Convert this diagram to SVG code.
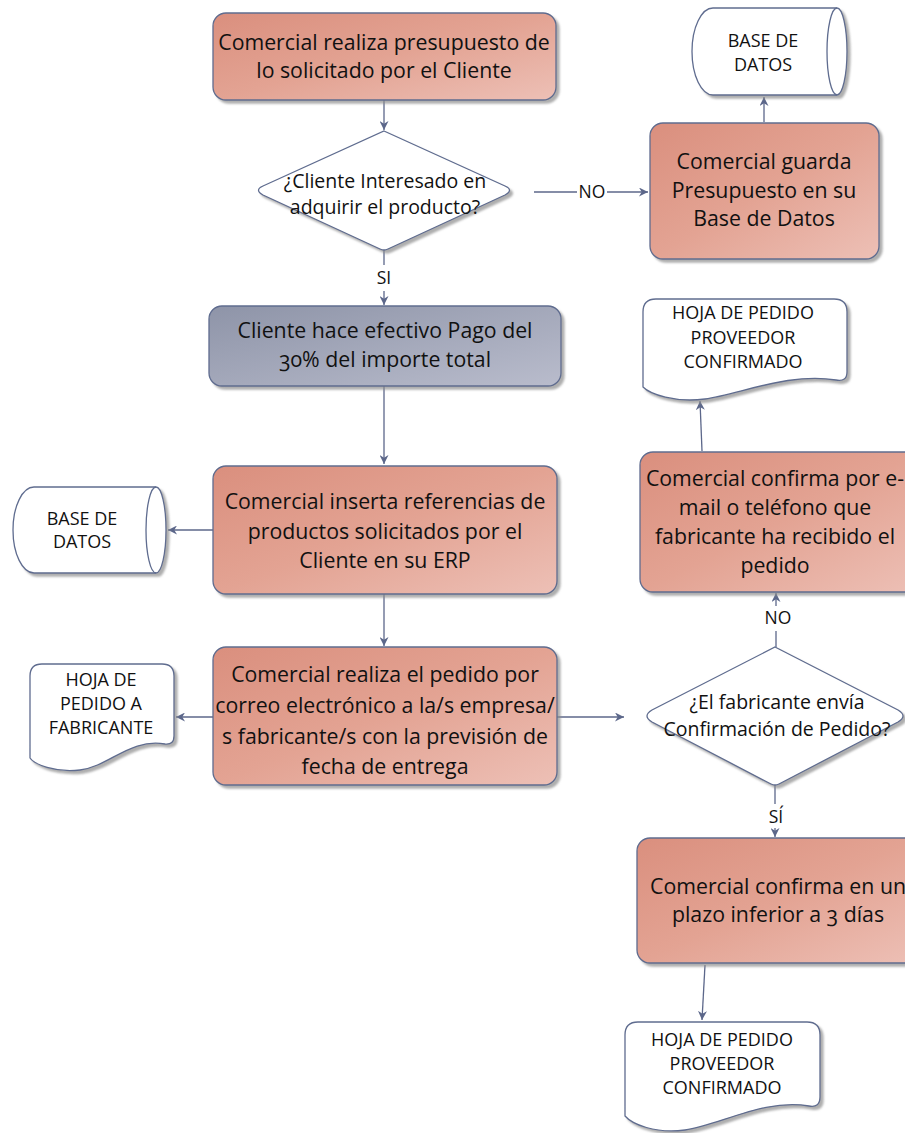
<svg xmlns="http://www.w3.org/2000/svg" width="905" height="1133" viewBox="0 0 905 1133">
  <defs>
    <linearGradient id="salmon" x1="0" y1="0" x2="1" y2="1">
      <stop offset="0" stop-color="#da8f7e"/>
      <stop offset="0.5" stop-color="#e3a393"/>
      <stop offset="1" stop-color="#edc0b6"/>
    </linearGradient>
    <linearGradient id="slate" x1="0" y1="0" x2="1" y2="1">
      <stop offset="0" stop-color="#8e94a8"/>
      <stop offset="1" stop-color="#b9bccc"/>
    </linearGradient>
    <filter id="shadow" x="-10%" y="-10%" width="125%" height="130%">
      <feDropShadow dx="3" dy="3" stdDeviation="1.2" flood-color="#8c8c8c" flood-opacity="0.7"/>
    </filter>
    <marker id="arrow" viewBox="0 0 10 10" refX="10" refY="5" markerWidth="9" markerHeight="9" markerUnits="userSpaceOnUse" orient="auto">
      <path d="M0,0 L10,5 L0,10 L3,5 Z" fill="#5c678a"/>
    </marker>
  </defs>
  <style>
    .box { stroke: #5f6c8f; stroke-width: 1.3; filter: url(#shadow); }
    .proc { fill: url(#salmon); }
    .pay { fill: url(#slate); }
    .white { fill: #ffffff; }
    .line { fill: none; stroke: #5f6c8f; stroke-width: 1.3; }
    .conn { fill: none; stroke: #5c678a; stroke-width: 1.3; }
    text { font-family: "Open Sans", "Noto Sans", "Liberation Sans", sans-serif; fill: #111111; text-anchor: middle; font-variant-numeric: oldstyle-nums; }
    .t21 { font-size: 21.3px; }
    .t18 { font-size: 19.5px; }
    .t15 { font-size: 18px; }
    .lbl { font-size: 17.5px; }
  </style>
  <rect width="905" height="1133" fill="#ffffff"/>

  <!-- connectors -->
  <g id="connectors">
    <line class="conn" x1="384" y1="100" x2="384" y2="130" marker-end="url(#arrow)"/>
    <line class="conn" x1="534" y1="192" x2="577" y2="192"/>
    <line class="conn" x1="607" y1="192" x2="648" y2="192" marker-end="url(#arrow)"/>
    <text class="lbl" x="592" y="198">NO</text>
    <line class="conn" x1="764" y1="122" x2="764" y2="97" marker-end="url(#arrow)"/>
    <line class="conn" x1="384" y1="250" x2="384" y2="265"/>
    <text class="lbl" x="384" y="284">SI</text>
    <line class="conn" x1="384" y1="291" x2="384" y2="305" marker-end="url(#arrow)"/>
    <line class="conn" x1="384" y1="386" x2="384" y2="464" marker-end="url(#arrow)"/>
    <line class="conn" x1="213" y1="530" x2="168" y2="530" marker-end="url(#arrow)"/>
    <line class="conn" x1="384" y1="594" x2="384" y2="646" marker-end="url(#arrow)"/>
    <line class="conn" x1="213" y1="717" x2="176" y2="717" marker-end="url(#arrow)"/>
    <line class="conn" x1="557" y1="717" x2="624" y2="717" marker-end="url(#arrow)"/>
    <line class="conn" x1="776" y1="647" x2="776" y2="631"/>
    <text class="lbl" x="778" y="624">NO</text>
    <line class="conn" x1="776" y1="606" x2="776" y2="593" marker-end="url(#arrow)"/>
    <line class="conn" x1="702" y1="451" x2="700" y2="401" marker-end="url(#arrow)"/>
    <line class="conn" x1="775" y1="785" x2="775" y2="804"/>
    <text class="lbl" x="776" y="823">SÍ</text>
    <line class="conn" x1="775" y1="828" x2="775" y2="837" marker-end="url(#arrow)"/>
    <line class="conn" x1="705" y1="965" x2="702" y2="1020" marker-end="url(#arrow)"/>
  </g>

  <!-- process: budget -->
  <g id="n-presupuesto">
    <rect class="box proc" x="213" y="13" width="343" height="87" rx="13"/>
    <text class="t21" x="384" y="50">Comercial realiza presupuesto de</text>
    <text class="t21" x="384" y="78">lo solicitado por el Cliente</text>
  </g>

  <!-- decision: interested -->
  <g id="n-interesado">
    <path class="box white" d="M384,131 L505,186 Q514,190 505,195 L388,249 Q384,251 380,249 L263,195 Q254,190 263,186 Z"/>
    <text class="t18" x="385" y="188">¿Cliente Interesado en</text>
    <text class="t18" x="385" y="214">adquirir el producto?</text>
  </g>

  <!-- process: save budget -->
  <g id="n-guarda">
    <rect class="box proc" x="650" y="123" width="229" height="136" rx="13"/>
    <text class="t21" x="764" y="169">Comercial guarda</text>
    <text class="t21" x="764" y="198">Presupuesto en su</text>
    <text class="t21" x="764" y="226">Base de Datos</text>
  </g>

  <!-- database top -->
  <g id="n-bd1">
    <path class="box white" d="M713,8 L837,8 A10,43.5 0 0 1 837,95 L713,95 A21,43.5 0 0 1 713,8 Z"/>
    <path class="line" d="M837,8 A10,43.5 0 0 0 837,95"/>
    <text class="t15" x="763" y="47">BASE DE</text>
    <text class="t15" x="763" y="71">DATOS</text>
  </g>

  <!-- process: payment -->
  <g id="n-pago">
    <rect class="box pay" x="209" y="306" width="352" height="80" rx="13"/>
    <text class="t21" x="385" y="338">Cliente hace efectivo Pago del</text>
    <text class="t21" x="385" y="367">30% del importe total</text>
  </g>

  <!-- process: ERP -->
  <g id="n-erp">
    <rect class="box proc" x="213" y="466" width="344" height="128" rx="13"/>
    <text class="t21" x="385" y="509">Comercial inserta referencias de</text>
    <text class="t21" x="385" y="539">productos solicitados por el</text>
    <text class="t21" x="385" y="568">Cliente en su ERP</text>
  </g>

  <!-- database left -->
  <g id="n-bd2">
    <path class="box white" d="M34,487 L156,487 A10,43 0 0 1 156,573 L34,573 A21,43 0 0 1 34,487 Z"/>
    <path class="line" d="M156,487 A10,43 0 0 0 156,573"/>
    <text class="t15" x="82" y="525">BASE DE</text>
    <text class="t15" x="82" y="548">DATOS</text>
  </g>

  <!-- process: order -->
  <g id="n-pedido">
    <rect class="box proc" x="213" y="647" width="344" height="138" rx="13"/>
    <text class="t21" x="385" y="682">Comercial realiza el pedido por</text>
    <text class="t21" x="385" y="713">correo electrónico a la/s empresa/</text>
    <text class="t21" x="385" y="744">s fabricante/s con la previsión de</text>
    <text class="t21" x="385" y="774">fecha de entrega</text>
  </g>

  <!-- document: order sheet -->
  <g id="n-hoja-fabricante">
    <path class="box white" d="M30,676 Q30,664 42,664 L162,664 Q174,664 174,676 L174,736 Q174,745 165,744 C130,738 110,766 80,770 C55,773 34,764 30,758 Z"/>
    <text class="t15" x="101" y="686">HOJA DE</text>
    <text class="t15" x="101" y="710">PEDIDO A</text>
    <text class="t15" x="101" y="734">FABRICANTE</text>
  </g>

  <!-- decision: confirmation -->
  <g id="n-confirmacion">
    <path class="box white" d="M775,647 L898,710 Q908,716 898,722 L779,784 Q775,786 771,784 L652,722 Q642,716 652,710 Z"/>
    <text class="t18" x="777" y="709">¿El fabricante envía</text>
    <text class="t18" x="777" y="736">Confirmación de Pedido?</text>
  </g>

  <!-- process: confirm by email -->
  <g id="n-confirma-email">
    <rect class="box proc" x="640" y="452" width="280" height="140" rx="13"/>
    <text class="t21" x="775" y="486">Comercial confirma por e-</text>
    <text class="t21" x="775" y="515">mail o teléfono que</text>
    <text class="t21" x="775" y="544">fabricante ha recibido el</text>
    <text class="t21" x="775" y="573">pedido</text>
  </g>

  <!-- document: confirmed sheet (upper) -->
  <g id="n-hoja-confirmado-1">
    <path class="box white" d="M643,312 Q643,299 656,299 L834,299 Q847,299 847,312 L847,372 Q847,382 836,380 C790,372 740,394 705,399 C675,403 650,394 643,387 Z"/>
    <text class="t15" x="743" y="319">HOJA DE PEDIDO</text>
    <text class="t15" x="743" y="344">PROVEEDOR</text>
    <text class="t15" x="743" y="368">CONFIRMADO</text>
  </g>

  <!-- process: confirm within 3 days -->
  <g id="n-confirma-plazo">
    <rect class="box proc" x="637" y="838" width="283" height="125" rx="13"/>
    <text class="t21" x="778" y="894">Comercial confirma en un</text>
    <text class="t21" x="778" y="922">plazo inferior a 3 días</text>
  </g>

  <!-- document: confirmed sheet (lower) -->
  <g id="n-hoja-confirmado-2">
    <path class="box white" d="M625,1035 Q625,1022 638,1022 L807,1022 Q820,1022 820,1035 L820,1097 Q820,1108 809,1106 C765,1098 720,1125 685,1130 C655,1134 632,1124 625,1116 Z"/>
    <text class="t15" x="722" y="1046">HOJA DE PEDIDO</text>
    <text class="t15" x="722" y="1070">PROVEEDOR</text>
    <text class="t15" x="722" y="1094">CONFIRMADO</text>
  </g>
</svg>
